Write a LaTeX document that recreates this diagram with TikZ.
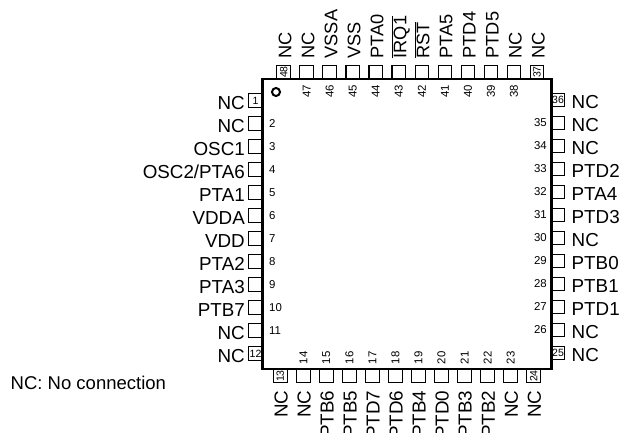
\documentclass[tikz,border=0pt]{standalone}
\usepackage{fontspec}
\setmainfont{Liberation Sans}
\newcommand{\bigf}{\fontsize{18.8}{20}\selectfont}
\newcommand{\vertf}{\fontsize{18.2}{20}\selectfont}
\newcommand{\notef}{\fontsize{18.5}{20}\selectfont}
\newcommand{\numf}{\fontsize{11.4}{12}\selectfont}
\newcommand{\tinyf}{\fontsize{10.5}{11}\selectfont}
\tikzset{
  x=1pt,y=-1pt,
  pinbox/.style={draw=black,line width=1.1pt,minimum size=13.6pt,inner sep=0pt,outer sep=0pt,font=\tinyf},
  siglabel/.style={inner sep=0pt,font=\bigf,text height=13.4pt,text depth=0pt},
  vertlabel/.style={inner sep=0pt,font=\vertf,text height=13.2pt,text depth=0pt,rotate=90},
  numlabel/.style={inner sep=0pt,font=\numf},
  chip/.style={draw=black,line width=2.6pt,fill=none}
}
\begin{document}
\begin{tikzpicture}
\useasboundingbox (0,0) rectangle (621,433);
\clip (0,0) rectangle (621,433);
% left side
\foreach \n/\t [count=\i from 0] in {1/NC,2/NC,3/OSC1,4/OSC2\slash PTA6,5/PTA1,6/VDDA,7/VDD,8/PTA2,9/PTA3,10/PTB7,11/NC,12/NC}{
  \pgfmathsetmacro\yy{100.5+23*\i}
  \ifnum\n=1 \node[pinbox] (p\n) at (255.5,\yy) {\n};
  \else\ifnum\n=12 \node[pinbox] (p\n) at (255.5,\yy) {\n};
  \else \node[pinbox] (p\n) at (255.5,\yy) {};
        \node[numlabel,anchor=west] (n\n) at (269,\yy) {\n};
  \fi\fi
  \node[siglabel,anchor=east] (s\n) at (245,\yy+2) {\t};
}
% bottom side
\foreach \n/\t [count=\i from 0] in {13/NC,14/NC,15/PTB6,16/PTB5,17/PTD7,18/PTD6,19/PTB4,20/PTD0,21/PTB3,22/PTB2,23/NC,24/NC}{
  \pgfmathsetmacro\xx{280.3+23.03*\i}
  \ifnum\n=13 \node[pinbox,rotate=90] (p\n) at (\xx,376) {\n};
  \else\ifnum\n=24 \node[pinbox,rotate=90] (p\n) at (\xx,376) {\n};
  \else \node[pinbox] (p\n) at (\xx,376) {};
        \node[numlabel,rotate=90,anchor=west] (n\n) at (\xx,364.5) {\n};
  \fi\fi
  \node[siglabel,rotate=90,anchor=east] (s\n) at (\xx+0.5,390.5) {\t};
}
% right side
\foreach \n/\t [count=\i from 0] in {25/NC,26/NC,27/PTD1,28/PTB1,29/PTB0,30/NC,31/PTD3,32/PTA4,33/PTD2,34/NC,35/NC,36/NC}{
  \pgfmathsetmacro\yy{353-23*\i}
  \ifnum\n=25 \node[pinbox] (p\n) at (558,\yy) {\n};
  \else\ifnum\n=36 \node[pinbox] (p\n) at (558,\yy) {\n};
  \else \node[pinbox] (p\n) at (558,\yy) {};
        \node[numlabel,anchor=east] (n\n) at (547,\yy) {\n};
  \fi\fi
  \node[siglabel,anchor=west] (s\n) at (571.5,\yy+2) {\t};
}
% top side
\foreach \n/\t [count=\i from 0] in {37/NC,38/NC,39/PTD5,40/PTD4,41/PTA5,42/$\overline{\mbox{RST}}$,43/$\overline{\mbox{IRQ1}}$,44/PTA0,45/VSS,46/VSSA,47/NC,48/NC}{
  \pgfmathsetmacro\xx{537-23.03*\i}
  \ifnum\n=37 \node[pinbox,rotate=90] (p\n) at (\xx,72) {\n};
  \else\ifnum\n=48 \node[pinbox,rotate=90] (p\n) at (\xx,72) {\n};
  \else \node[pinbox] (p\n) at (\xx,72) {};
        \node[numlabel,rotate=90,anchor=east] (n\n) at (\xx,85) {\n};
  \fi\fi
  \node[vertlabel,anchor=west] (s\n) at (\xx+1,58.5) {\t};
}
% body
\node[chip,minimum width=288.5pt,minimum height=290pt,inner sep=0pt] (body) at (407,224) {};
\node[draw=black,line width=2pt,circle,minimum size=8pt,inner sep=0pt] (dot) at (276,92) {};
\node[inner sep=0pt,anchor=west,font=\notef,text height=13.2pt,text depth=0pt] (note) at (10.5,382.7) {NC: No connection};
\end{tikzpicture}
\end{document}
